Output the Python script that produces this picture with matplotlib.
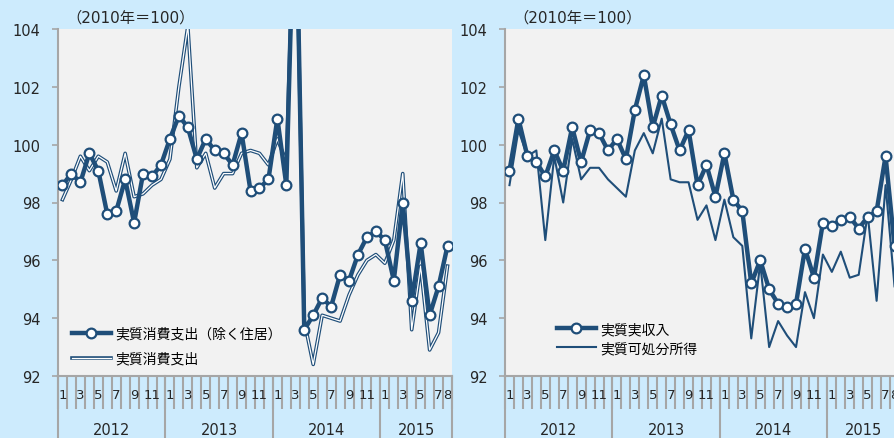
import numpy as np
import matplotlib.pyplot as plt
from matplotlib import transforms
from matplotlib.lines import Line2D

plt.rcParams['font.family'] = ['DejaVu Sans', 'Noto Sans CJK JP']

# 横軸: 2012年1月〜2015年8月
years = [2012, 2013, 2014, 2015]
months_per_year = [12, 12, 12, 8]
month_labels = {1: '1', 3: '3', 5: '5', 7: '7', 9: '9', 11: '11'}
last_labels = {1: '1', 3: '3', 5: '5', 7: '7', 8: '8'}

# 左: 実質消費支出
cons_ex_housing = [98.6, 99.0, 98.7, 99.7, 99.1, 97.6, 97.7, 98.8, 97.3, 99.0, 98.9, 99.3,
                   100.2, 101.0, 100.6, 99.5, 100.2, 99.8, 99.7, 99.3, 100.4, 98.4, 98.5, 98.8,
                   100.9, 98.6, 110.0, 93.6, 94.1, 94.7, 94.4, 95.5, 95.3, 96.2, 96.8, 97.0,
                   96.7, 95.3, 98.0, 94.6, 96.6, 94.1, 95.1, 96.5]
cons_total = [98.1, 98.8, 99.6, 99.1, 99.6, 99.4, 98.4, 99.7, 98.2, 98.3, 98.6, 98.8,
              99.5, 102.0, 104.1, 99.2, 99.7, 98.5, 99.0, 99.0, 99.7, 99.8, 99.7, 99.3,
              100.2, 99.4, 109.5, 93.9, 92.4, 94.1, 94.0, 93.9, 94.8, 95.5, 96.0, 96.2,
              95.9, 96.7, 99.0, 93.6, 95.8, 92.9, 93.5, 95.8]

# 右: 実質実収入・実質可処分所得
real_income = [99.1, 100.9, 99.6, 99.4, 98.9, 99.8, 99.1, 100.6, 99.4, 100.5, 100.4, 99.8,
               100.2, 99.5, 101.2, 102.4, 100.6, 101.7, 100.7, 99.8, 100.5, 98.6, 99.3, 98.2,
               99.7, 98.1, 97.7, 95.2, 96.0, 95.0, 94.5, 94.4, 94.5, 96.4, 95.4, 97.3,
               97.2, 97.4, 97.5, 97.1, 97.5, 97.7, 99.6, 96.5]
disp_income = [98.6, 100.5, 99.6, 99.8, 96.7, 99.6, 98.0, 100.2, 98.8, 99.2, 99.2, 98.8,
               98.5, 98.2, 99.8, 100.4, 99.7, 100.9, 98.8, 98.7, 98.7, 97.4, 97.9, 96.7,
               98.1, 96.8, 96.5, 93.3, 95.9, 93.0, 93.9, 93.4, 93.0, 94.9, 94.0, 96.2,
               95.6, 96.3, 95.4, 95.5, 97.6, 94.6, 98.6, 95.1]

navy = '#1f4e79'
grey = '#a6a6a6'
bg_blue = '#cdebfd'

n = sum(months_per_year)
x = np.arange(n) + 0.5

fig = plt.figure(figsize=(8.94, 4.39), dpi=100, facecolor=bg_blue)
W, H = 894, 439
ax1 = fig.add_axes([58 / W, (H - 377) / H, 394 / W, 347 / H])
ax2 = fig.add_axes([505 / W, (H - 377) / H, 394 / W, 347 / H])


def setup_axis(ax):
    ax.set_facecolor('#f2f2f2')
    ax.set_xlim(0, n)
    ax.set_ylim(92, 104)
    ax.set_yticks(np.arange(92, 105, 2))
    for s in ['top', 'right']:
        ax.spines[s].set_visible(False)
    for s in ['left', 'bottom']:
        ax.spines[s].set_color(grey)
        ax.spines[s].set_linewidth(1.5)
    ax.tick_params(axis='y', direction='out', length=4.5, width=1.2, color=grey,
                   labelsize=10.5, labelcolor='#262626', pad=8)
    # 月の区切り
    ax.set_xticks(np.arange(0, n + 1))
    ax.tick_params(axis='x', which='major', length=24, width=1.5, color=grey, labelbottom=False)
    # 月ラベル
    pos, labs = [], []
    start = 0
    for yr, cnt in zip(years, months_per_year):
        lab_map = month_labels if cnt == 12 else last_labels
        for m in range(1, cnt + 1):
            if m in lab_map:
                pos.append(start + m - 0.5)
                labs.append(lab_map[m])
        start += cnt
    ax.set_xticks(pos, labs, minor=True)
    ax.tick_params(axis='x', which='minor', length=0, pad=9, labelsize=9.5, labelcolor='#262626')
    # 年の区切りと年ラベル
    trans = transforms.blended_transform_factory(ax.transData, ax.transAxes)
    bounds = np.concatenate([[0], np.cumsum(months_per_year)])
    for b in bounds:
        ax.plot([b, b], [0, -0.25], transform=trans, color=grey, lw=1.5, clip_on=False)
    for i, yr in enumerate(years):
        ax.text((bounds[i] + bounds[i + 1]) / 2, -0.153, str(yr), transform=trans,
                ha='center', va='center', fontsize=10.5, color='#262626')


setup_axis(ax1)
setup_axis(ax2)

# 左パネル
d1, = ax1.plot(x, cons_total, color=navy, lw=2.6, zorder=2)
d2, = ax1.plot(x, cons_total, color='white', lw=0.9, zorder=2.1)
h1, = ax1.plot(x, cons_ex_housing, color=navy, lw=3.2, marker='o', markersize=7,
               markerfacecolor='white', markeredgecolor=navy, markeredgewidth=1.6, zorder=3)
ax1.legend([h1, (d1, d2)], ['実質消費支出（除く住居）', '実質消費支出'],
           loc='lower left', bbox_to_anchor=(0.035, 0.03), borderaxespad=0, borderpad=0,
           frameon=False, fontsize=10, handlelength=2.8, handletextpad=0.3, labelspacing=0.8)

# 右パネル
ax2.plot(x, disp_income, color=navy, lw=1.5, zorder=2)
ax2.plot(x, real_income, color=navy, lw=3.2, marker='o', markersize=7,
         markerfacecolor='white', markeredgecolor=navy, markeredgewidth=1.6, zorder=3)
leg_handles = [Line2D([], [], color=navy, lw=3.2, marker='o', markersize=7,
                      markerfacecolor='white', markeredgecolor=navy, markeredgewidth=1.6),
               Line2D([], [], color=navy, lw=1.5)]
ax2.legend(leg_handles, ['実質実収入', '実質可処分所得'],
           loc='lower left', bbox_to_anchor=(0.132, 0.06), borderaxespad=0, borderpad=0,
           frameon=False, fontsize=10, handlelength=2.8, handletextpad=0.3, labelspacing=0.35)

for ax in (ax1, ax2):
    pos = ax.get_position()
    fig.text(pos.x0 + 8 / W, 1 - 18 / H, '（2010年＝100）', ha='left', va='center',
             fontsize=11, color='#262626')

fig.savefig('out.png', dpi=100, facecolor=bg_blue)
